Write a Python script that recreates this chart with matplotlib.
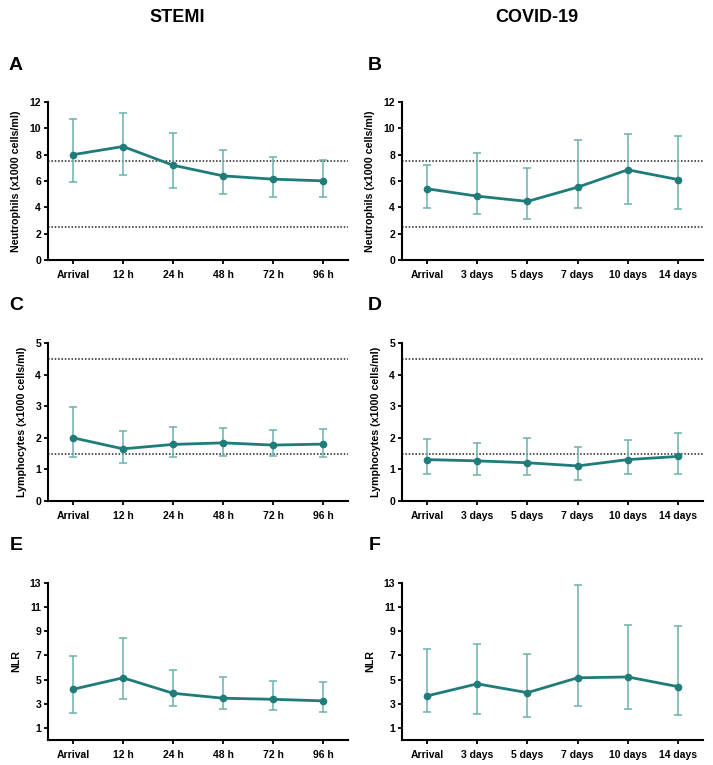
import matplotlib
matplotlib.use("Agg")
import matplotlib.pyplot as plt

plt.rcParams['font.family'] = ['Liberation Sans', 'DejaVu Sans']
plt.rcParams['font.weight'] = 'bold'

stemi_labels = ['Arrival', '12 h', '24 h', '48 h', '72 h', '96 h']
covid_labels = ['Arrival', '3 days', '5 days', '7 days', '10 days', '14 days']

# neutrophils (x1000 cells/ml): median, lower, upper
stemi_neu = [8.0, 8.62, 7.2, 6.39, 6.14, 6.01]
stemi_neu_lo = [5.9, 6.42, 5.5, 5.05, 4.82, 4.82]
stemi_neu_hi = [10.7, 11.2, 9.62, 8.32, 7.86, 7.61]
covid_neu = [5.41, 4.85, 4.45, 5.53, 6.85, 6.11]
covid_neu_lo = [3.97, 3.46, 3.13, 3.97, 4.27, 3.89]
covid_neu_hi = [7.2, 8.14, 6.95, 9.15, 9.58, 9.42]

# lymphocytes
stemi_lym = [2.0, 1.65, 1.79, 1.84, 1.77, 1.8]
stemi_lym_lo = [1.38, 1.19, 1.38, 1.41, 1.41, 1.38]
stemi_lym_hi = [2.99, 2.2, 2.33, 2.32, 2.26, 2.27]
covid_lym = [1.31, 1.27, 1.21, 1.11, 1.31, 1.41]
covid_lym_lo = [0.85, 0.82, 0.82, 0.68, 0.84, 0.85]
covid_lym_hi = [1.97, 1.84, 1.98, 1.72, 1.92, 2.16]

# NLR
stemi_nlr = [4.2, 5.15, 3.87, 3.46, 3.37, 3.24]
stemi_nlr_lo = [2.21, 3.4, 2.82, 2.6, 2.46, 2.35]
stemi_nlr_hi = [6.97, 8.41, 5.78, 5.2, 4.92, 4.84]
covid_nlr = [3.65, 4.65, 3.92, 5.15, 5.22, 4.42]
covid_nlr_lo = [2.33, 2.15, 1.93, 2.84, 2.54, 2.04]
covid_nlr_hi = [7.54, 7.98, 7.1, 12.8, 9.5, 9.44]

line_col = '#1f7c78'
err_col = '#6cb0ac'

W, H = 713, 765
fig = plt.figure(figsize=(W / 100, H / 100), dpi=100)


def make_ax(left, right, top, bottom):
    return fig.add_axes([left / W, (H - bottom) / H, (right - left) / W, (bottom - top) / H])


def panel(ax, labels, mid, lo, hi, ylim, yticks, ylabel, reflines):
    x = list(range(len(labels)))
    yerr = [[m - l for m, l in zip(mid, lo)], [h - m for m, h in zip(mid, hi)]]
    ax.errorbar(x, mid, yerr=yerr, fmt='none', ecolor=err_col, elinewidth=1.1,
                capsize=3, capthick=1.1, zorder=2)
    ax.plot(x, mid, color=line_col, lw=2, marker='o', ms=4.5, zorder=3)
    for r in reflines:
        ax.axhline(r, color='#222222', ls=(0, (1, 1.2)), lw=1.1, zorder=1)
    ax.set_xlim(-0.5, len(labels) - 0.5)
    ax.set_ylim(*ylim)
    ax.set_yticks(yticks)
    ax.set_xticks(x)
    ax.set_xticklabels(labels, fontsize=7.5, fontweight='bold')
    ax.tick_params(axis='y', labelsize=7.5, width=1.3, length=3, pad=2)
    ax.tick_params(axis='x', width=1.3, length=3, pad=4)
    for t in ax.get_yticklabels():
        t.set_fontweight('bold')
    ax.set_ylabel(ylabel, fontsize=7.7, fontweight='bold', labelpad=6)
    ax.spines['top'].set_visible(False)
    ax.spines['right'].set_visible(False)
    ax.spines['left'].set_linewidth(1.5)
    ax.spines['bottom'].set_linewidth(1.5)


neu_label = 'Neutrophils (x1000 cells/ml)'
lym_label = 'Lymphocytes (x1000 cells/ml)'

axA = make_ax(48, 348, 102, 260)
panel(axA, stemi_labels, stemi_neu, stemi_neu_lo, stemi_neu_hi, (0, 12),
      range(0, 13, 2), neu_label, [7.5, 2.5])
axB = make_ax(402, 703, 102, 260)
panel(axB, covid_labels, covid_neu, covid_neu_lo, covid_neu_hi, (0, 12),
      range(0, 13, 2), neu_label, [7.5, 2.5])
axC = make_ax(48, 348, 343, 501)
panel(axC, stemi_labels, stemi_lym, stemi_lym_lo, stemi_lym_hi, (0, 5),
      range(0, 6), lym_label, [4.5, 1.5])
axD = make_ax(402, 703, 343, 501)
panel(axD, covid_labels, covid_lym, covid_lym_lo, covid_lym_hi, (0, 5),
      range(0, 6), lym_label, [4.5, 1.5])
axE = make_ax(48, 348, 583, 740)
panel(axE, stemi_labels, stemi_nlr, stemi_nlr_lo, stemi_nlr_hi, (0, 13),
      range(1, 14, 2), 'NLR', [])
axF = make_ax(402, 703, 583, 740)
panel(axF, covid_labels, covid_nlr, covid_nlr_lo, covid_nlr_hi, (0, 13),
      range(1, 14, 2), 'NLR', [])

fig.text(177 / W, 1 - 18 / H, 'STEMI', ha='center', va='center', fontsize=13, fontweight='bold')
fig.text(537 / W, 1 - 18 / H, 'COVID-19', ha='center', va='center', fontsize=13, fontweight='bold')
for letter, (lx, ly) in zip('ABCDEF', [(16, 66), (375, 66), (16, 306), (375, 306), (16, 546), (375, 546)]):
    fig.text(lx / W, 1 - ly / H, letter, ha='center', va='center', fontsize=14, fontweight='bold')

fig.savefig('out.png', dpi=100)
